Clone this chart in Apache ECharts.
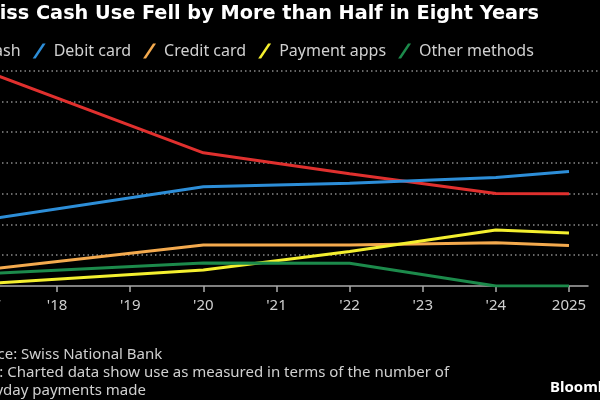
<!DOCTYPE html>
<html>
<head>
<meta charset="utf-8">
<script src="https://cdn.jsdelivr.net/npm/echarts@6/dist/echarts.min.js"></script>
<style>html,body{margin:0;padding:0;background:#000;}#c{width:600px;height:400px;}</style>
</head>
<body>
<div id="c"></div>
<script>
const years = [2017, 2020, 2022, 2024, 2025];
const tickYears = [2017, 2018, 2019, 2020, 2021, 2022, 2023, 2024, 2025];
const cash = [70, 43.3, 36.5, 30.1, 30.0];
const debit = [21.5, 32.3, 33.4, 35.3, 37.2];
const credit = [5.3, 13.3, 13.3, 14.1, 13.2];
const apps = [0.7, 5.2, 11.2, 18.2, 17.2];
const other = [4.0, 7.5, 7.4, 0, 0];
const seriesNames = ['Cash', 'Debit card', 'Credit card', 'Payment apps', 'Other methods'];
const seriesData = [cash, debit, credit, apps, other];
const colors = ['#e0302e', '#2d8ed8', '#f4aa4e', '#f4ef2f', '#1c8a4b'];

const font = 'Noto Sans';
const chart = echarts.init(document.getElementById('c'), null, {renderer: 'canvas'});
const icon = 'path://M0,15 L10,0 L13,0 L3,15 Z';

chart.setOption({
  backgroundColor: '#000',
  animation: false,
  title: [
    {text: 'Swiss Cash Use Fell by More than Half in Eight Years', left: -32, top: 4, padding: 0,
     textStyle: {color: '#fff', fontFamily: 'DejaVu Sans', fontWeight: 'bold', fontSize: 19.3}},
    {text: 'Source: Swiss National Bank\nNote: Charted data show use as measured in terms of the number of\neveryday payments made',
     left: -35, top: 346, padding: 0,
     textStyle: {color: '#d0d0d0', fontFamily: font, fontWeight: 'normal', fontSize: 15, lineHeight: 18}},
    {text: 'Bloomberg', left: 550, top: 380, padding: 0,
     textStyle: {color: '#fff', fontFamily: font, fontWeight: 'bold', fontSize: 15}}
  ],
  legend: {
    left: -42, top: 38, itemGap: 12, itemWidth: 13, itemHeight: 15,
    data: seriesNames.map((n, i) => ({name: n, icon: icon, itemStyle: {color: colors[i]}})),
    textStyle: {color: '#d0d0d0', fontFamily: font, fontSize: 16, padding: [0, 0, 0, 3]}
  },
  grid: [
    {left: -16, right: 12, top: 70.7, bottom: 114, outerBoundsMode: 'none', containLabel: false},
    {left: -16, right: -5, top: 70.7, bottom: 114, outerBoundsMode: 'none', containLabel: false}
  ],
  xAxis: [
    {type: 'value', gridIndex: 0, min: 2017, max: 2025.26, interval: 1,
     axisLine: {show: true, lineStyle: {color: '#aaa', width: 1.5}},
     axisTick: {show: true, length: 6, customValues: tickYears, lineStyle: {color: '#aaa', width: 1.5}},
     axisLabel: {customValues: tickYears, color: '#d0d0d0', fontFamily: font, fontSize: 15, margin: 12,
       formatter: v => (v === 2017 || v === 2025) ? String(v) : "'" + String(v).slice(2)},
     splitLine: {show: false}},
    {type: 'value', gridIndex: 1, min: 0, max: 1, show: false}
  ],
  yAxis: [
    {type: 'value', gridIndex: 0, min: 0, max: 70, interval: 10, show: false, splitLine: {show: false}},
    {type: 'value', gridIndex: 1, min: 0, max: 70, interval: 10,
     axisLine: {show: false}, axisTick: {show: false}, axisLabel: {show: false},
     splitLine: {show: true, showMinLine: false, lineStyle: {color: '#8a8a8a', width: 1.5, type: [1.5, 3]}}}
  ],
  series: seriesNames.map((n, i) => ({
    name: n, type: 'line', xAxisIndex: 0, yAxisIndex: 0,
    data: years.map((y, j) => [y, seriesData[i][j]]),
    showSymbol: false, symbol: 'none',
    lineStyle: {color: colors[i], width: 3},
    itemStyle: {color: colors[i]},
    z: 3
  }))
});
</script>
</body>
</html>
